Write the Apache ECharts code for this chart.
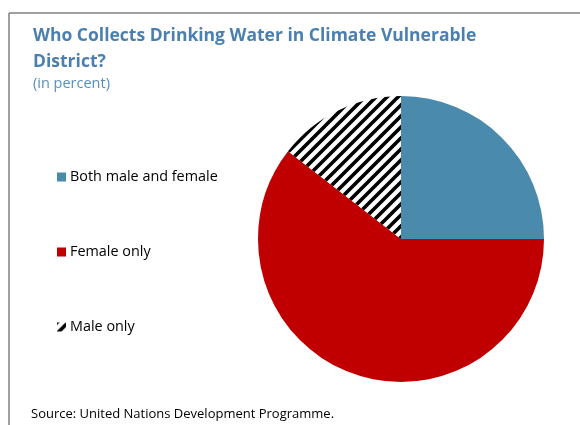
<!DOCTYPE html>
<html><head><meta charset="utf-8">
<script src="https://cdn.jsdelivr.net/npm/echarts@6/dist/echarts.min.js"></script>
<style>html,body{margin:0;padding:0;background:#fff}#c{width:580px;height:425px}</style>
</head><body><div id="c"></div>
<script>
var categories = ['Both male and female', 'Female only', 'Male only'];
var values = [25, 60.5, 14.5];
var titleText = 'Who Collects Drinking Water in Climate Vulnerable\nDistrict?';
var subtitleText = '(in percent)';
var sourceText = 'Source: United Nations Development Programme.';

function stripes() {
  var s = 11, c = document.createElement('canvas');
  c.width = s; c.height = s;
  var g = c.getContext('2d');
  g.fillStyle = '#fff'; g.fillRect(0, 0, s, s);
  g.strokeStyle = '#000'; g.lineWidth = 3.6;
  g.beginPath();
  g.moveTo(-3, s + 3); g.lineTo(s + 3, -3);
  g.moveTo(-3, 3); g.lineTo(3, -3);
  g.moveTo(s - 3, s + 3); g.lineTo(s + 3, s - 3);
  g.stroke();
  return c;
}
var colors = ['#4a8aad', '#c00000', { image: stripes(), repeat: 'repeat' }];

var chart = echarts.init(document.getElementById('c'), null, { renderer: 'canvas' });
var font = '"Open Sans", "Noto Sans", sans-serif';
chart.setOption({
  animation: false,
  title: {
    text: titleText,
    subtext: subtitleText,
    left: 28, top: 18,
    itemGap: 1,
    textStyle: { fontFamily: font, fontSize: 17.5, fontWeight: 'bold', color: '#4a7fb0', lineHeight: 26 },
    subtextStyle: { fontFamily: font, fontSize: 14.5, color: '#5590c0' }
  },
  legend: {
    orient: 'vertical',
    left: 57, top: 168,
    padding: 0,
    itemWidth: 9, itemHeight: 9,
    itemGap: 57,
    icon: 'rect',
    data: categories,
    textStyle: { fontFamily: font, fontSize: 14.4, color: '#000', padding: [0, 0, 0, -1], lineHeight: 18 }
  },
  graphic: [
    { type: 'line', shape: { x1: 9, y1: 13, x2: 580, y2: 13 }, style: { stroke: '#808080', lineWidth: 1.5 } },
    { type: 'line', shape: { x1: 9, y1: 13, x2: 9, y2: 425 }, style: { stroke: '#808080', lineWidth: 1.5 } },
    { type: 'text', left: 31, top: 408, style: { text: sourceText, font: '13px ' + font, fill: '#000' } }
  ],
  series: [{
    type: 'pie',
    center: [401, 239],
    radius: [0, 143],
    startAngle: 90,
    clockwise: true,
    label: { show: false },
    labelLine: { show: false },
    emphasis: { disabled: true },
    itemStyle: { borderWidth: 0 },
    data: categories.map(function (n, i) { return { name: n, value: values[i], itemStyle: { color: colors[i] } }; })
  }]
});
</script></body></html>
